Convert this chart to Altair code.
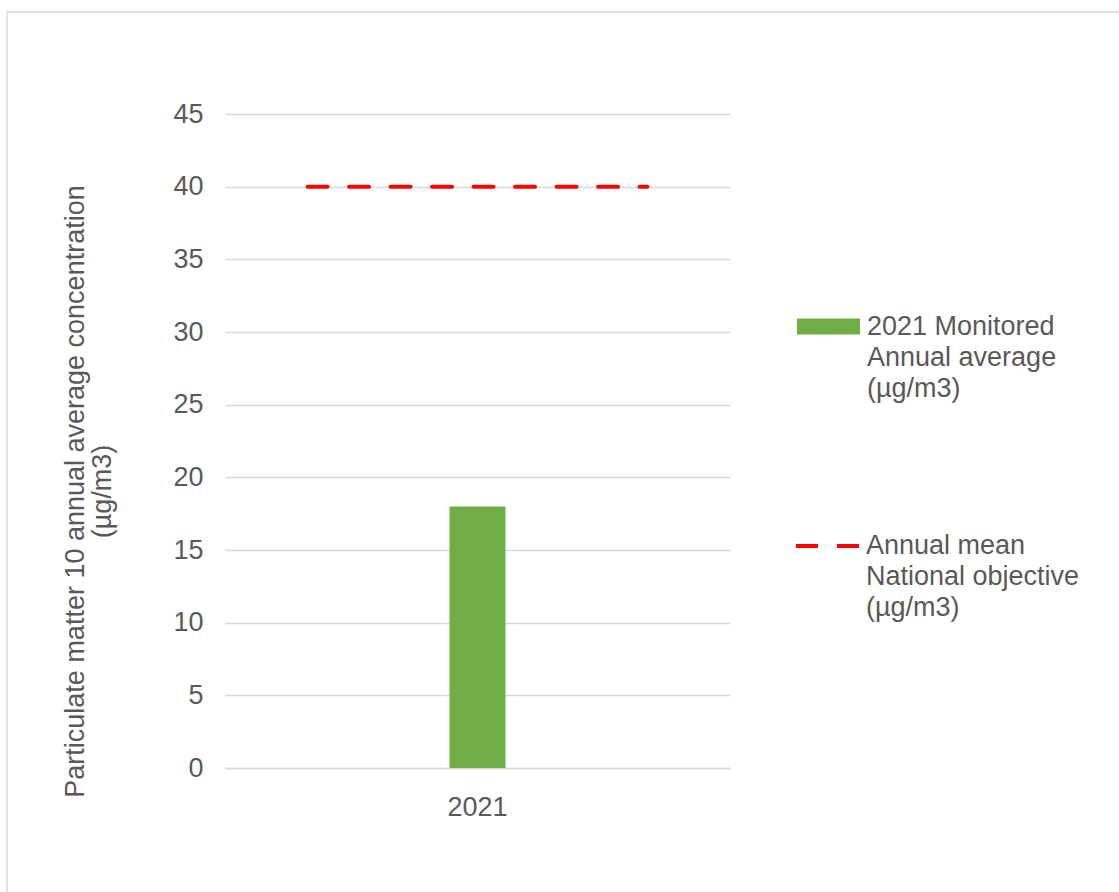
import altair as alt
import pandas as pd

# ---- data ----
years = ["2021"]
monitored = [18]          # 2021 monitored annual average (µg/m3)
objective = [40]          # annual mean national objective (µg/m3)
y_ticks = [0, 5, 10, 15, 20, 25, 30, 35, 40, 45]
bar_label_lines = ["2021 Monitored", "Annual average", "(µg/m3)"]
line_label_lines = ["Annual mean", "National objective", "(µg/m3)"]
y_title_lines = ["Particulate matter 10 annual average concentration", "(µg/m3)"]

bar_name = "\n".join(bar_label_lines)
line_name = "\n".join(line_label_lines)

df_bar = pd.DataFrame({"year": years, "value": monitored, "series": [bar_name] * len(years)})
df_line = pd.DataFrame({"year": years, "value": objective, "series": [line_name] * len(years)})
df_frame = pd.DataFrame({"k": [0]})

FONT = "Liberation Sans"
GREY = "#595959"
GRID = "#d9d9d9"
FS = 27

x_enc = alt.X(
    "year:N",
    title=None,
    scale=alt.Scale(paddingInner=0, paddingOuter=0.243),
    axis=alt.Axis(
        labelAngle=0, labelFontSize=FS, labelColor=GREY, labelFont=FONT,
        labelPadding=26, domainColor=GRID, domainWidth=1.5,
        ticks=False, tickSize=0, grid=False,
    ),
)
y_enc = alt.Y(
    "value:Q",
    scale=alt.Scale(domain=[0, 45], nice=False),
    axis=alt.Axis(
        values=y_ticks, title=y_title_lines, domain=False, ticks=False, tickSize=0,
        labelFontSize=FS, labelColor=GREY, labelFont=FONT, labelPadding=22,
        gridColor=GRID, gridWidth=1.5,
        titleFont=FONT, titleFontSize=FS, titleColor=GREY, titleFontWeight="normal",
        titleX=-142, titleY=377, titleAngle=270, titleAlign="center",
        titleBaseline="alphabetic", titleLineHeight=27,
    ),
)

bars = alt.Chart(df_bar).mark_bar(size=56).encode(
    x=x_enc,
    y=y_enc,
    fill=alt.Fill(
        "series:N",
        scale=alt.Scale(range=["#70ad47"]),
        legend=alt.Legend(
            title=None, orient="none", legendX=572, legendY=181,
            symbolType="M-1,-0.254L1,-0.254L1,0.254L-1,0.254Z",
            symbolSize=3969, symbolStrokeWidth=0, symbolOpacity=1,
            labelExpr="split(datum.label, '\\n')",
            labelFontSize=FS, labelFont=FONT, labelColor=GREY,
            labelLimit=600, labelOffset=7, labelBaseline="middle", padding=0,
        ),
    ),
)

rule = alt.Chart(df_line).mark_rule(
    strokeWidth=4, strokeDash=[20, 21.5], strokeCap="round"
).encode(
    x=alt.X("year:N", bandPosition=0),
    x2=alt.X2("year", bandPosition=1),
    y=alt.Y("value:Q"),
    stroke=alt.Stroke(
        "series:N",
        scale=alt.Scale(range=["#ff0000"]),
        legend=alt.Legend(
            title=None, orient="none", legendX=569, legendY=397,
            symbolType="stroke", symbolSize=4356, symbolStrokeWidth=4,
            symbolDash=[22, 19],
            labelExpr="split(datum.label, '\\n')",
            labelFontSize=FS, labelFont=FONT, labelColor=GREY,
            labelLimit=600, labelOffset=2, labelBaseline="middle", padding=0,
        ),
    ),
)

frame = alt.Chart(df_frame).mark_rect(
    fillOpacity=0, stroke=GRID, strokeWidth=1.5
).encode(
    x=alt.value(7 - 225), x2=alt.value(1200 - 225),
    y=alt.value(12 - 114), y2=alt.value(1000 - 114),
)

chart = alt.layer(frame, bars, rule).resolve_scale(fill="independent", stroke="independent").properties(
    width=505,
    height=654,
    autosize=alt.AutoSizeParams(type="none"),
    padding={"left": 225, "top": 114, "right": 389, "bottom": 124},
    background="white",
).configure(
    style={"guide-label": {"lineHeight": 31}},
    view=alt.ViewConfig(stroke=None),
)

chart.save("out.html", embed_options={"renderer": "svg", "actions": False})
